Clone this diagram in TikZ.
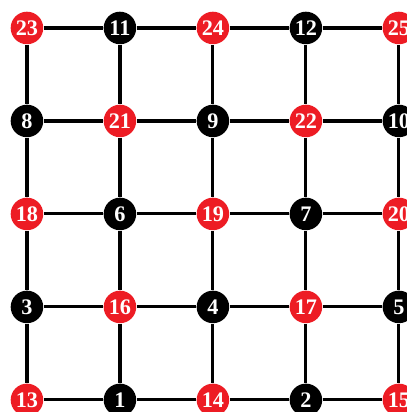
\documentclass[tikz,border=0pt]{standalone}
\usepackage{fontspec}
\setmainfont{Liberation Serif}
\usepackage{xcolor}
\usepackage{tikz}
\definecolor{vred}{RGB}{237,28,36}

\begin{document}
\begin{tikzpicture}[
				vtx/.style={circle, inner sep=0pt, minimum size=0.35cm, text=white, font=\fontsize{6.8}{7}\selectfont\bfseries},
				rv/.style={vtx, fill=vred},
				bv/.style={vtx, fill=black},
				edge/.style={line width=0.95pt}
				]
				\useasboundingbox (-0.29,-0.13) rectangle (4.087,4.301);
				% Nodes
				\node (n23) [rv] at (0,4) {23};
				\node (n11) [bv] at (1,4) {11};
				\node (n24) [rv] at (2,4) {24};
				\node (n12) [bv] at (3,4) {12};
				\node (n25) [rv] at (4,4) {25};
				
				\node (n8) [bv] at (0,3) {8};
				\node (n21) [rv] at (1,3) {21};
				\node (n9) [bv] at (2,3) {9};
				\node (n22) [rv] at (3,3) {22};
				\node (n10) [bv] at (4,3) {10};
				
				\node (n18) [rv] at (0,2) {18};
				\node (n6) [bv] at (1,2) {6};
				\node (n19) [rv] at (2,2) {19};
				\node (n7) [bv] at (3,2) {7};
				\node (n20) [rv] at (4,2) {20};
				
				\node (n3) [bv] at (0,1) {3};
				\node (n16) [rv] at (1,1) {16};
				\node (n4) [bv] at (2,1) {4};
				\node (n17) [rv] at (3,1) {17};
				\node (n5) [bv] at (4,1) {5};
				
				\node (n13) [rv] at (0,0) {13};
				\node (n1) [bv] at (1,0) {1};
				\node (n14) [rv] at (2,0) {14};
				\node (n2) [bv] at (3,0) {2};
				\node (n15) [rv] at (4,0) {15};
				
				% Edges
				\draw [edge] (n23) -- (n11) -- (n24) -- (n12) -- (n25);
				\draw [edge] (n8) -- (n21) -- (n9) -- (n22) -- (n10);
				\draw [edge] (n18) -- (n6) -- (n19) -- (n7) -- (n20);
				\draw [edge] (n3) -- (n16) -- (n4) -- (n17) -- (n5);
				\draw [edge] (n13) -- (n1) -- (n14) -- (n2) -- (n15);
				\draw [edge] (n23) -- (n8) -- (n18) -- (n3) -- (n13);
				\draw [edge] (n11) -- (n21) -- (n6) -- (n16) -- (n1);
				\draw [edge] (n24) -- (n9) -- (n19) -- (n4) -- (n14);
				\draw [edge] (n12) -- (n22) -- (n7) -- (n17) -- (n2);
				\draw [edge] (n25) -- (n10) -- (n20) -- (n5) -- (n15);
			\end{tikzpicture}
\end{document}
